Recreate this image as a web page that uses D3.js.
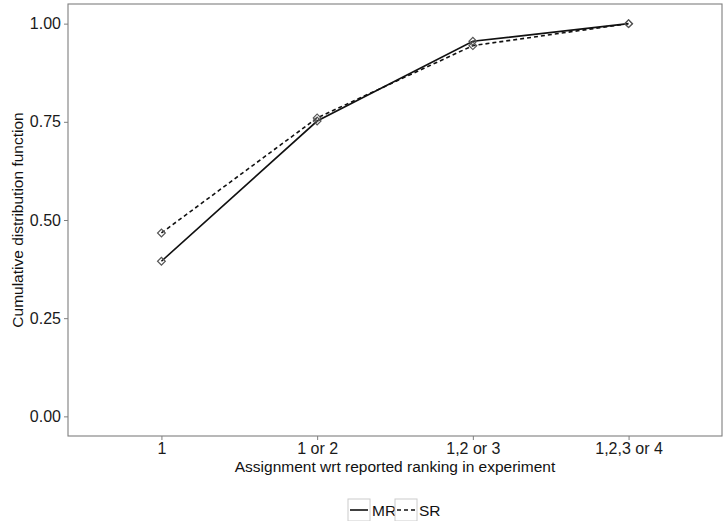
<!DOCTYPE html>
<html>
<head>
<meta charset="utf-8">
<script src="https://d3js.org/d3.v7.min.js"></script>
<style>
  body { margin: 0; background: #fff; }
  text { font-family: "Liberation Sans", Arial, sans-serif; }
</style>
</head>
<body>
<svg id="chart" width="723" height="521"></svg>
<script>
// data
const categories = ["1", "1 or 2", "1,2 or 3", "1,2,3 or 4"];
const mrValues = [0.395, 0.752, 0.955, 1.0];
const srValues = [0.467, 0.760, 0.944, 1.0];
const yTicks = [0, 0.25, 0.5, 0.75, 1.0];
const seriesNames = ["MR", "SR"];

const svg = d3.select("#chart");
const margin = { left: 68, top: 4, right: 1, bottom: 85 };
const W = 723, H = 521;
const pw = W - margin.left - margin.right;
const ph = H - margin.top - margin.bottom;

const g = svg.append("g").attr("transform", `translate(${margin.left},${margin.top})`);

// discrete x with ggplot's 0.6 expansion
const x = d3.scalePoint().domain(categories).range([0, pw]).padding(0.6);
const y = d3.scaleLinear().domain([-0.05, 1.05]).range([ph, 0]);

// panel border
g.append("rect")
  .attr("width", pw).attr("height", ph)
  .attr("fill", "none").attr("stroke", "#7f7f7f").attr("stroke-width", 1.1);

// y axis
const yAxis = g.append("g").call(d3.axisLeft(y).tickValues(yTicks).tickFormat(d3.format(".2f")).tickSize(4).tickPadding(3));
yAxis.select(".domain").remove();
yAxis.selectAll("line").attr("stroke", "#7f7f7f");
yAxis.selectAll("text").attr("font-size", 16).attr("fill", "#1a1a1a");

// x axis
const xAxis = g.append("g").attr("transform", `translate(0,${ph})`)
  .call(d3.axisBottom(x).tickSize(4).tickPadding(3));
xAxis.select(".domain").remove();
xAxis.selectAll("line").attr("stroke", "#7f7f7f");
xAxis.selectAll("text").attr("font-size", 16).attr("fill", "#1a1a1a");

// axis titles
svg.append("text")
  .attr("x", margin.left + pw / 2).attr("y", 472)
  .attr("text-anchor", "middle").attr("font-size", 15.5).attr("fill", "#111")
  .text("Assignment wrt reported ranking in experiment");
svg.append("text")
  .attr("transform", `translate(23,${margin.top + ph / 2}) rotate(-90)`)
  .attr("text-anchor", "middle").attr("font-size", 15.5).attr("fill", "#111")
  .text("Cumulative distribution function");

const line = d3.line().x((d, i) => x(categories[i])).y(d => y(d));

const series = [
  { name: "MR", values: mrValues, dash: null },
  { name: "SR", values: srValues, dash: "4,3" }
];

series.forEach(s => {
  g.append("path").datum(s.values)
    .attr("d", line).attr("fill", "none")
    .attr("stroke", "#111").attr("stroke-width", 1.6)
    .attr("stroke-dasharray", s.dash);
});

// diamond markers (rotated squares, like ggplot shape 5)
const sym = d3.symbol().type(d3.symbolSquare).size(30);
series.forEach(s => {
  g.selectAll(null).data(s.values).enter().append("path")
    .attr("d", sym)
    .attr("transform", (d, i) => `translate(${x(categories[i])},${y(d)}) rotate(45)`)
    .attr("fill", "none").attr("stroke", "#555").attr("stroke-width", 1.2);
});

// legend
const leg = svg.append("g").attr("transform", "translate(348,499)");
const legX = [0, 47];
seriesNames.forEach((name, i) => {
  const lg = leg.append("g").attr("transform", `translate(${legX[i]},0)`);
  lg.append("rect").attr("width", 22).attr("height", 22)
    .attr("fill", "#fff").attr("stroke", "#cccccc").attr("stroke-width", 1);
  lg.append("line").attr("x1", 2).attr("x2", 20).attr("y1", 11).attr("y2", 11)
    .attr("stroke", "#111").attr("stroke-width", 1.6)
    .attr("stroke-dasharray", series[i].dash);
  lg.append("text").attr("x", 24).attr("y", 17)
    .attr("font-size", 15.5).attr("fill", "#111").text(name);
});
</script>
</body>
</html>
